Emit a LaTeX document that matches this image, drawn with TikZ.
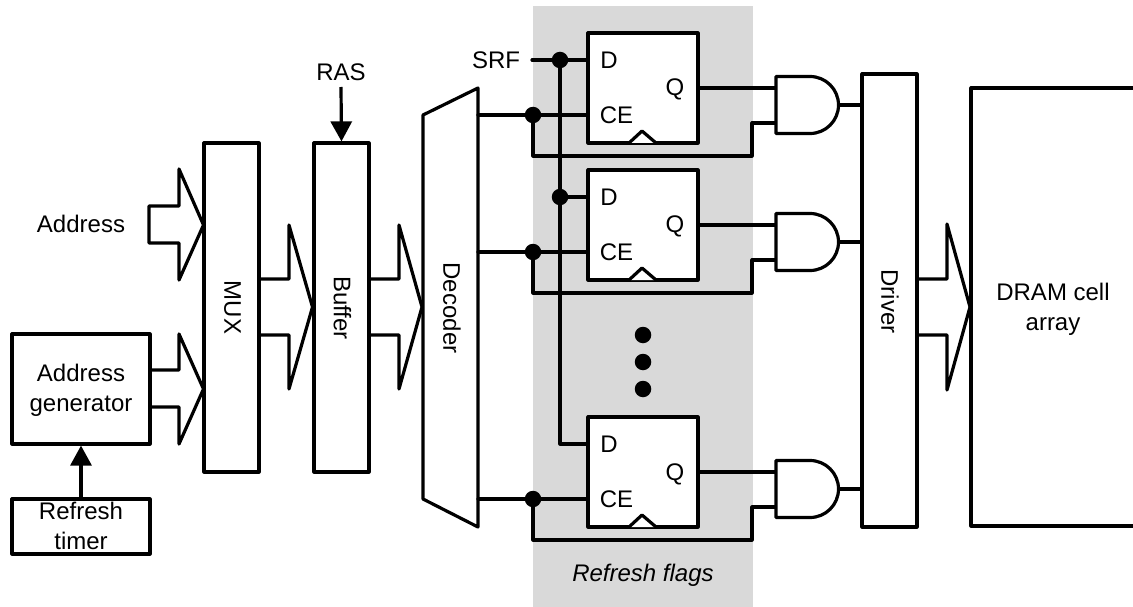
\documentclass[tikz,border=0pt]{standalone}
\usepackage{fontspec}
\setmainfont{Liberation Sans}
\usetikzlibrary{arrows.meta}
\tikzset{
  x=1pt,y=-1pt,
  wire/.style={line width=3.2pt,line join=round,line cap=round,black},
  box/.style={draw=black,fill=white,line width=3.2pt,line join=round,inner sep=0pt,outer sep=0pt,align=center,font=\fontsize{24}{30}\selectfont},
  lbl/.style={inner sep=0pt,outer sep=0pt,anchor=base,font=\fontsize{24}{30}\selectfont},
  vlbl/.style={inner sep=0pt,outer sep=0pt,rotate=-90,font=\fontsize{24}{30}\selectfont},
  ptr/.style={wire,-{Triangle[length=20pt,width=21pt]},line cap=butt,shorten >=1.6pt},
  fat/.style={wire,fill=white},
  jdot/.style={circle,fill=black,inner sep=0pt,outer sep=0pt,minimum size=16.5pt},
  ff/.style={box,minimum width=110pt,minimum height=110pt},
  tall/.style={box,minimum width=55pt,minimum height=329pt},
}
\begin{document}
\begin{tikzpicture}
\useasboundingbox (0,0) rectangle (1133,607);
% shaded band
\node[fill=black!15,inner sep=0pt,outer sep=0pt,minimum width=220pt,minimum height=601pt] (band) at (643,306.5) {};
\node[lbl,font=\fontsize{24}{30}\selectfont\itshape] (flags) at (643,581.5) {Refresh flags};

% blocks
\node[tall] (mux) at (231.5,307.5) {};
\node[vlbl] (muxt) at (232.5,307.5) {MUX};
\node[tall] (buf) at (341.5,307.5) {};
\node[vlbl] (buft) at (342.5,308) {Buffer};
\node[box,minimum width=138pt,minimum height=110pt] (agen) at (81,389) {};
\node[lbl,align=center,anchor=center] (agent) at (81,390.5) {Address\\generator};
\node[box,minimum width=138pt,minimum height=55pt] (timer) at (81,526.5) {};
\node[lbl,align=center,anchor=center] (timert) at (81,525.5) {Refresh\\timer};
\node[box,minimum width=55pt,minimum height=453pt] (drv) at (889.5,300.5) {};
\node[vlbl] (drvt) at (890,301.5) {Driver};
\node[lbl] (addr) at (81,232.5) {Address};
\node[lbl] (ras) at (341,80.5) {RAS};
\node[lbl] (srf) at (496,68.5) {SRF};

% decoder
\coordinate (dectr) at (478,88);
\coordinate (dectl) at (423,115);
\coordinate (decbl) at (423,499);
\coordinate (decbr) at (478,527);
\draw[wire,fill=white] (dectr) -- (dectl) -- (decbl) -- (decbr) -- cycle;
\node[vlbl] (dect) at (452,308) {Decoder};

% cell array (open on the right)
\coordinate (arrtr) at (1135,88);
\coordinate (arrtl) at (971,88);
\coordinate (arrbl) at (971,526);
\coordinate (arrbr) at (1135,526);
\draw[wire] (arrtr) -- (arrtl) -- (arrbl) -- (arrbr);
\node[lbl,align=center,anchor=center] (arrt) at (1053,309.5) {DRAM cell\\array};

% single arrows
\coordinate (rasin) at (341,87);
\draw[ptr] (rasin) -- (buf.north);
\draw[ptr] (timer.north) -- (agen.south);

% fat arrows
\coordinate (f1) at (149,206);
\draw[fat] (f1) -- (179,206) -- (179,169) -- (203.5,225) -- (179,280) -- (179,243) -- (149,243) -- cycle;
\draw[wire] (agen.east |- 0,370) -- (179,370) -- (179,334) -- (203.5,389) -- (179,444) -- (179,407) -- (agen.east |- 0,407);
\draw[wire] (mux.east |- 0,279) -- (289,279) -- (289,225) -- (312.5,307) -- (289,389) -- (289,335) -- (mux.east |- 0,335);
\draw[wire] (buf.east |- 0,279) -- (399,279) -- (399,225) -- (422,307) -- (399,389) -- (399,335) -- (buf.east |- 0,335);
\draw[wire] (drv.east |- 0,279) -- (947,279) -- (947,224) -- (970,307) -- (947,390) -- (947,335) -- (drv.east |- 0,335);

% SRF bus
\coordinate (srfin) at (532,60);
\coordinate (busbot) at (560,444);
\coordinate (j1) at (560,60);
\coordinate (j2) at (560,197);

% flag stages
\foreach \i/\t in {1/33,2/170,3/417}{
  \node[ff,anchor=north west] (ff\i) at (588,\t) {};
  \node[lbl] (d\i) at (609,\t+35.5) {D};
  \node[lbl] (q\i) at (675,\t+63) {Q};
  \node[lbl] (ce\i) at (616.5,\t+90.5) {CE};
  \coordinate (ceout\i) at (478,\t+82);
  \coordinate (cej\i) at (533,\t+82);
  \coordinate (cein\i) at (588,\t+82);
  \coordinate (qout\i) at (698,\t+55);
  \coordinate (andq\i) at (776,\t+55);
  \coordinate (and\i b) at (776,\t+90);
  \coordinate (rt\i) at (752,\t+90);
  \coordinate (rb\i) at (752,\t+123);
  \coordinate (lb\i) at (533,\t+123);
  \coordinate (andout\i) at (838.5,\t+72);
  \coordinate (drvin\i) at (862,\t+72);
  % clock mark
  \draw[wire,fill=white] (629,\t+110) -- (642,\t+98) -- (656,\t+110);
  % wires
  \draw[wire] (ceout\i) -- (cein\i);
  \draw[wire] (cej\i) -- (lb\i) -- (rb\i) -- (rt\i) -- (and\i b);
  \draw[wire] (qout\i) -- (andq\i);
  \draw[wire] (andout\i) -- (drvin\i);
  \node[jdot] (jc\i) at (cej\i) {};
  % AND gate
  \draw[wire,fill=white] (776,\t+43.5) -- (810,\t+43.5) arc[start angle=90,end angle=-90,radius=28.5pt] -- (776,\t+100.5) -- cycle;
}
\draw[wire] (srfin) -- (ff1.west |- srfin);
\draw[wire] (j1) -- (busbot) -- (ff3.west |- busbot);
\draw[wire] (j2) -- (ff2.west |- j2);
\node[jdot] (jd1) at (j1) {};
\node[jdot] (jd2) at (j2) {};

% ellipsis
\node[jdot] (e1) at (643,335) {};
\node[jdot] (e2) at (643,362) {};
\node[jdot] (e3) at (643,389) {};
\end{tikzpicture}
\end{document}
